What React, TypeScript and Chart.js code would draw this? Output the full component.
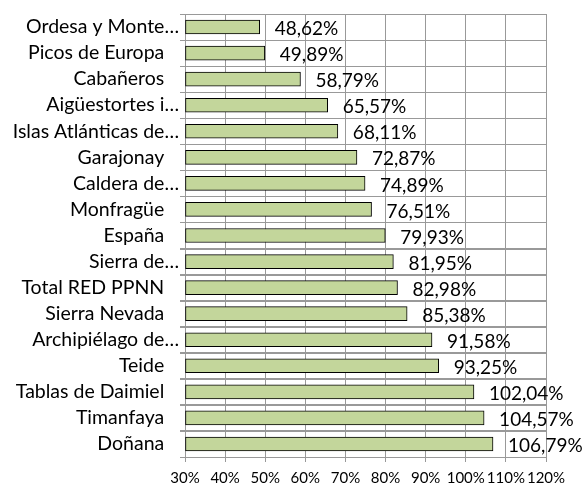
import React, { useEffect, useRef } from "react";
import { Chart, registerables } from "chart.js";

Chart.register(...registerables);

const categories = [
  "Ordesa y Monte…",
  "Picos de Europa",
  "Cabañeros",
  "Aigüestortes i…",
  "Islas Atlánticas de…",
  "Garajonay",
  "Caldera de…",
  "Monfragüe",
  "España",
  "Sierra de…",
  "Total RED PPNN",
  "Sierra Nevada",
  "Archipiélago de…",
  "Teide",
  "Tablas de Daimiel",
  "Timanfaya",
  "Doñana",
];

const values = [
  48.62, 49.89, 58.79, 65.57, 68.11, 72.87, 74.89, 76.51, 79.93, 81.95, 82.98,
  85.38, 91.58, 93.25, 102.04, 104.57, 106.79,
];

const xMin = 30;
const xMax = 120;
const xStep = 10;

const FONT = "Lato, 'Open Sans', sans-serif";
const GRID = "#999999";

const fmt = (v: number) => v.toFixed(2).replace(".", ",") + "%";

const categoryLines = {
  id: "categoryLines",
  beforeDatasetsDraw(chart: any) {
    const ctx = chart.ctx;
    const y = chart.scales.y;
    const area = chart.chartArea;
    const n = categories.length;
    ctx.save();
    ctx.strokeStyle = GRID;
    ctx.lineWidth = 1;
    ctx.beginPath();
    for (let i = 0; i <= n; i++) {
      let py: number;
      if (i === 0) py = y.getPixelForValue(0) - (y.getPixelForValue(1) - y.getPixelForValue(0)) / 2;
      else if (i === n) py = y.getPixelForValue(n - 1) + (y.getPixelForValue(n - 1) - y.getPixelForValue(n - 2)) / 2;
      else py = (y.getPixelForValue(i - 1) + y.getPixelForValue(i)) / 2;
      py = Math.round(py) + 0.5;
      ctx.moveTo(area.left - 5, py);
      ctx.lineTo(area.right, py);
    }
    ctx.stroke();
    ctx.restore();
  },
};

const valueLabels = {
  id: "valueLabels",
  afterDatasetsDraw(chart: any) {
    const ctx = chart.ctx;
    const meta = chart.getDatasetMeta(0);
    ctx.save();
    ctx.font = `19px ${FONT}`;
    ctx.fillStyle = "#000000";
    ctx.textAlign = "left";
    ctx.textBaseline = "middle";
    meta.data.forEach((bar: any, i: number) => {
      ctx.fillText(fmt(values[i]), bar.x + 15, bar.y + 2);
    });
    ctx.restore();
  },
};

export default function App() {
  const ref = useRef<HTMLCanvasElement>(null);

  useEffect(() => {
    document.body.style.margin = "0";
    const chart = new Chart(ref.current!, {
      type: "bar",
      data: {
        labels: categories,
        datasets: [
          {
            data: values,
            base: xMin,
            backgroundColor: "#c3d69b",
            borderColor: "#000000",
            borderWidth: 1,
            borderSkipped: false,
            barThickness: 14,
          } as any,
        ],
      },
      options: {
        indexAxis: "y",
        animation: false,
        responsive: false,
        maintainAspectRatio: false,
        layout: { padding: { top: 14, right: 37, left: 0, bottom: 0 } },
        plugins: {
          legend: { display: false },
          tooltip: { enabled: false },
        },
        scales: {
          x: {
            min: xMin,
            max: xMax,
            ticks: {
              stepSize: xStep,
              callback: (v: any) => v + "%",
              font: { family: FONT, size: 15 },
              color: "#000000",
              padding: 7,
              maxRotation: 0,
              autoSkip: false,
            },
            grid: {
              color: GRID,
              lineWidth: 1,
              tickLength: 5,
              drawTicks: true,
            },
            border: { color: GRID, width: 1 },
            afterFit: (s: any) => {
              s.height = 32;
            },
          },
          y: {
            offset: true,
            ticks: {
              font: { family: FONT, size: 19.5 },
              color: "#000000",
              padding: 1,
              autoSkip: false,
              callback: function (this: any, v: any) {
                const l = categories[v as number];
                return l.endsWith("…") ? l : l + "\u2002 ";
              },
            },
            grid: {
              offset: true,
              color: GRID,
              lineWidth: 1,
              tickLength: 5,
            },
            border: { color: GRID, width: 1 },
            afterFit: (s: any) => {
              s.width = 185;
            },
          },
        },
      },
      plugins: [categoryLines, valueLabels],
    });
    return () => chart.destroy();
  }, []);

  return (
    <div style={{ position: "absolute", left: 0, top: 0, width: 583, height: 489, background: "#fff" }}>
      <canvas ref={ref} width={583} height={489} />
    </div>
  );
}
